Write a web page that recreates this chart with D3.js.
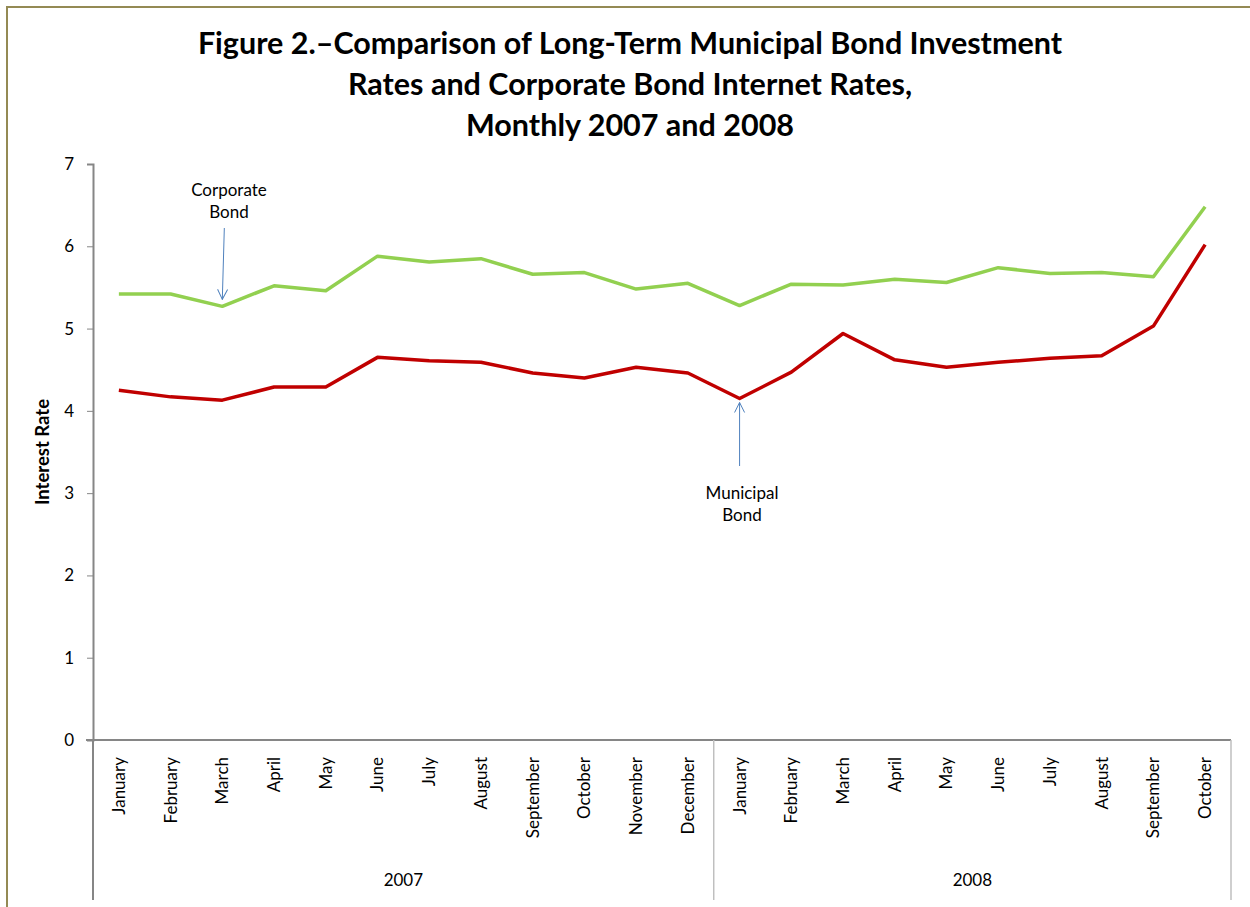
<!DOCTYPE html>
<html>
<head>
<meta charset="utf-8">
<script src="https://cdn.jsdelivr.net/npm/d3@7"></script>
<style>
	body { margin: 0; background: #fff; }
	svg { display: block; font-family: Lato, "Open Sans", sans-serif; }
</style>
</head>
<body>
<div id="chart"></div>
<script>
var width = 1250;
var height = 907;

// chart data
var months = ["January", "February", "March", "April", "May", "June", "July", "August",
	"September", "October", "November", "December",
	"January", "February", "March", "April", "May", "June", "July", "August",
	"September", "October"];
var years = ["2007", "2008"];
var monthYear = [0,0,0,0,0,0,0,0,0,0,0,0, 1,1,1,1,1,1,1,1,1,1];
var corporate = [5.42, 5.42, 5.27, 5.52, 5.46, 5.88, 5.81, 5.85, 5.66, 5.68, 5.48, 5.55,
	5.28, 5.54, 5.53, 5.60, 5.56, 5.74, 5.67, 5.68, 5.63, 6.48];
var municipal = [4.25, 4.17, 4.13, 4.29, 4.29, 4.65, 4.61, 4.59, 4.46, 4.40, 4.53, 4.46,
	4.15, 4.47, 4.94, 4.62, 4.53, 4.59, 4.64, 4.67, 5.03, 6.02];
var yTicks = [0, 1, 2, 3, 4, 5, 6, 7];
var titleLines = ["Figure 2.\u2013Comparison of Long-Term Municipal Bond Investment",
	"Rates and Corporate Bond Internet Rates,",
	"Monthly 2007 and 2008"];

window.onload = start;

function start() {
	var chart = d3.select("#chart")
		.append("svg")
		.attr("width", width)
		.attr("height", height);

	// outer frame
	chart.append("rect")
		.attr("x", 7)
		.attr("y", 7)
		.attr("width", 1300)
		.attr("height", 960)
		.attr("fill", "none")
		.attr("stroke", "#948a54")
		.attr("stroke-width", 2);

	var idx = d3.range(months.length);
	var xScale = d3.scaleBand().domain(idx).range([93, 1231]);
	var yScale = d3.scaleLinear().domain([0, 7]).range([740, 164]);
	var xMid = function(i) { return xScale(i) + xScale.bandwidth() / 2; };

	// title
	chart.append("g").selectAll("text")
		.data(titleLines)
		.enter()
		.append("text")
		.attr("x", 630)
		.attr("y", function(d, i) { return 54 + i * 41; })
		.attr("text-anchor", "middle")
		.style("font-size", "30.5px")
		.style("font-weight", "bold")
		.text(function(d) { return d; });

	// y axis
	var yAxis = d3.axisLeft().scale(yScale).tickValues(yTicks)
		.tickFormat(d3.format("d")).tickSize(6).tickPadding(13);
	var yg = chart.append("g")
		.attr("transform", "translate(93,0)")
		.call(yAxis);
	yg.select(".domain").attr("stroke", "#868686").attr("stroke-width", 2);
	yg.selectAll(".tick line").attr("stroke", "#868686");
	yg.selectAll(".tick text")
		.attr("fill", "#000")
		.style("font-family", "Lato, sans-serif")
		.style("font-size", "17px");

	chart.append("text")
		.attr("transform", "translate(49,452) rotate(-90)")
		.attr("text-anchor", "middle")
		.style("font-size", "18.5px")
		.style("font-weight", "bold")
		.text("Interest Rate");

	// x axis line (runs past the y axis like the zero tick)
	chart.append("line")
		.attr("x1", 86).attr("x2", 1231)
		.attr("y1", yScale(0)).attr("y2", yScale(0))
		.attr("stroke", "#868686")
		.attr("stroke-width", 2);

	// group separators below the axis
	var seps = [0, 12, months.length];
	chart.append("g").selectAll("line")
		.data(seps)
		.enter()
		.append("line")
		.attr("x1", function(d) { return d < months.length ? xScale(d) : xScale.range()[1]; })
		.attr("x2", function(d) { return d < months.length ? xScale(d) : xScale.range()[1]; })
		.attr("y1", yScale(0))
		.attr("y2", 900)
		.attr("stroke", function(d) { return d == 0 ? "#868686" : "#bfbfbf"; })
		.attr("stroke-width", function(d) { return d == 0 ? 2 : 1.5; });

	// month labels
	chart.append("g").selectAll("text")
		.data(months)
		.enter()
		.append("text")
		.attr("transform", function(d, i) { return "translate(" + xMid(i) + ",757) rotate(-90)"; })
		.attr("dy", "0.35em")
		.attr("text-anchor", "end")
		.style("font-size", "17px")
		.text(function(d) { return d; });

	// year labels
	chart.append("g").selectAll("text")
		.data(years)
		.enter()
		.append("text")
		.attr("x", function(d, k) {
			var first = monthYear.indexOf(k);
			var last = monthYear.lastIndexOf(k);
			return (xScale(first) + xScale(last) + xScale.bandwidth()) / 2;
		})
		.attr("y", 886)
		.attr("text-anchor", "middle")
		.style("font-size", "17px")
		.text(function(d) { return d; });

	// lines
	var line = d3.line()
		.x(function(d, i) { return xMid(i); })
		.y(function(d) { return yScale(d); });

	chart.append("path")
		.datum(corporate)
		.attr("d", line)
		.attr("fill", "none")
		.attr("stroke", "#92d050")
		.attr("stroke-width", 3.5)
		.attr("stroke-linejoin", "round");

	chart.append("path")
		.datum(municipal)
		.attr("d", line)
		.attr("fill", "none")
		.attr("stroke", "#c00000")
		.attr("stroke-width", 3.5)
		.attr("stroke-linejoin", "round");

	// annotations
	var defs = chart.append("defs");
	defs.append("marker")
		.attr("id", "arrow")
		.attr("viewBox", "0 0 12 12")
		.attr("refX", 11)
		.attr("refY", 6)
		.attr("markerWidth", 12)
		.attr("markerHeight", 12)
		.attr("markerUnits", "userSpaceOnUse")
		.attr("orient", "auto")
		.append("path")
		.attr("d", "M1,1 L11,6 L1,11")
		.attr("fill", "none")
		.attr("stroke", "#4f81bd")
		.attr("stroke-width", 1);

	// Corporate Bond note, pointing at March 2007
	chart.append("line")
		.attr("x1", xMid(2) + 2).attr("y1", 228)
		.attr("x2", xMid(2)).attr("y2", yScale(corporate[2]) - 7)
		.attr("stroke", "#4f81bd")
		.attr("stroke-width", 1)
		.attr("marker-end", "url(#arrow)");

	chart.append("g").selectAll("text")
		.data(["Corporate", "Bond"])
		.enter()
		.append("text")
		.attr("x", 229)
		.attr("y", function(d, i) { return 196 + i * 22; })
		.attr("text-anchor", "middle")
		.style("font-size", "17px")
		.text(function(d) { return d; });

	// Municipal Bond note, pointing at January 2008
	chart.append("line")
		.attr("x1", xMid(12)).attr("y1", 466)
		.attr("x2", xMid(12)).attr("y2", yScale(municipal[12]) + 4)
		.attr("stroke", "#4f81bd")
		.attr("stroke-width", 1)
		.attr("marker-end", "url(#arrow)");

	chart.append("g").selectAll("text")
		.data(["Municipal", "Bond"])
		.enter()
		.append("text")
		.attr("x", 742)
		.attr("y", function(d, i) { return 499 + i * 22; })
		.attr("text-anchor", "middle")
		.style("font-size", "17px")
		.text(function(d) { return d; });
}
</script>
</body>
</html>
